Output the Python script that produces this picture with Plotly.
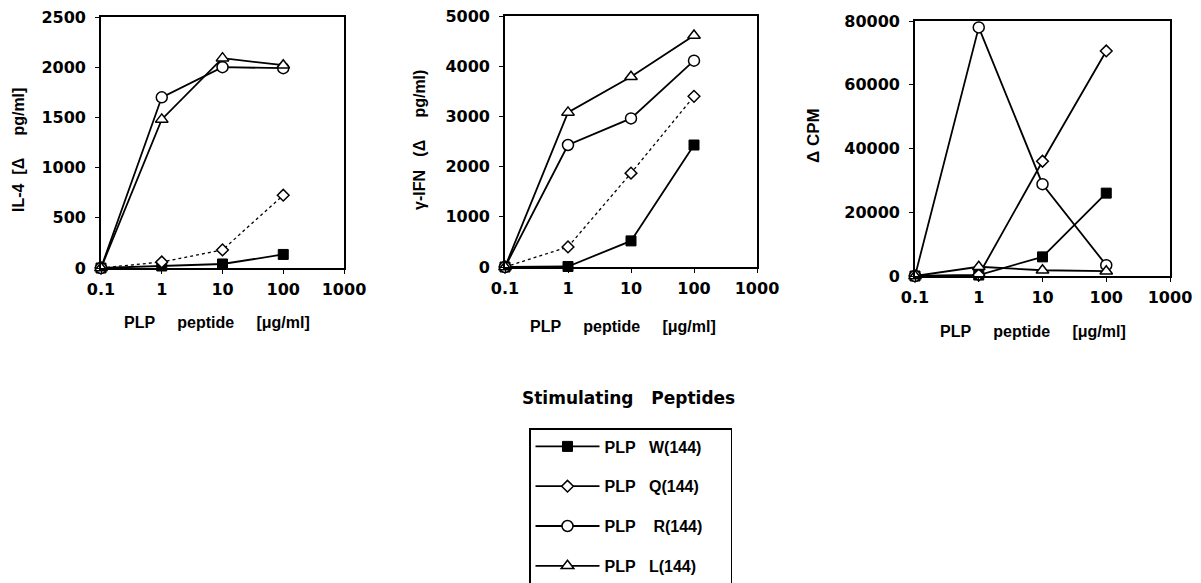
import plotly.graph_objects as go

# ---------------- data ----------------
conc = [0.1, 1, 10, 100]
series_names = ["W", "Q", "R", "L"]
NB = "\u00a0"
legend_labels = ["PLP" + NB * 3 + "W(144)" + NB * 5, "PLP" + NB * 3 + "Q(144)" + NB * 5,
                 "PLP" + NB * 4 + "R(144)" + NB * 5, "PLP" + NB * 3 + "L(144)" + NB * 5]

il4_W = [0, 20, 40, 135]
il4_Q = [0, 60, 180, 725]
il4_R = [0, 1700, 2000, 1990]
il4_L = [0, 1480, 2090, 2020]

ifn_W = [0, 10, 520, 2430]
ifn_Q = [0, 400, 1870, 3400]
ifn_R = [0, 2430, 2960, 4110]
ifn_L = [0, 3080, 3790, 4610]

cpm_W = [0, 300, 6000, 26000]
cpm_Q = [0, 300, 36000, 70600]
cpm_R = [0, 78000, 28800, 3400]
cpm_L = [0, 2900, 1800, 1500]

x_tickvals = [0.1, 1, 10, 100, 1000]
x_ticktext = ["0.1", "1", "10", "100", "1000"]

il4_ticks = [0, 500, 1000, 1500, 2000, 2500]
ifn_ticks = [0, 1000, 2000, 3000, 4000, 5000]
cpm_ticks = [0, 20000, 40000, 60000, 80000]

# ---------------- styles ----------------
W_, H_ = 1201, 583
LBL = "Liberation Sans, Arial, sans-serif"
TICKF = "DejaVu Sans, sans-serif"

marker_style = {
    "W": dict(symbol="square", size=10, color="black", line=dict(color="black", width=1)),
    "Q": dict(symbol="diamond", size=9, color="white", line=dict(color="black", width=1.5)),
    "R": dict(symbol="circle", size=11, color="white", line=dict(color="black", width=1.5)),
    "L": dict(symbol="triangle-up", size=11, color="white", line=dict(color="black", width=1.5)),
}

panels = [
    dict(data=[il4_W, il4_Q, il4_R, il4_L], ticks=il4_ticks, rng=[0, 2500],
         px=(101, 344), py=(17, 268), dotted_q=True, ax="x", ay="y"),
    dict(data=[ifn_W, ifn_Q, ifn_R, ifn_L], ticks=ifn_ticks, rng=[0, 5000],
         px=(505, 757), py=(16, 267), dotted_q=True, ax="x2", ay="y2"),
    dict(data=[cpm_W, cpm_Q, cpm_R, cpm_L], ticks=cpm_ticks, rng=[0, 80000],
         px=(915, 1170), py=(21, 276), dotted_q=False, ax="x3", ay="y3"),
]

fig = go.Figure()

for pi, p in enumerate(panels):
    for si, name in enumerate(series_names):
        dash = "dot" if (name == "Q" and p["dotted_q"]) else "solid"
        lw = 1.3 if dash == "dot" else 1.8
        fig.add_trace(go.Scatter(
            x=conc, y=p["data"][si], mode="lines+markers",
            name=legend_labels[si], legendgroup=name,
            showlegend=(pi == 2),
            line=dict(color="black", width=lw, dash=dash),
            marker=marker_style[name],
            cliponaxis=False,
            xaxis=p["ax"], yaxis=p["ay"],
        ))

layout = dict(
    width=W_, height=H_,
    margin=dict(l=0, r=0, t=0, b=0, autoexpand=False),
    paper_bgcolor="white", plot_bgcolor="white",
    font=dict(family=LBL, color="black"),
    showlegend=True,
    legend=dict(
        x=529 / W_, y=1 - 428 / H_, xanchor="left", yanchor="top",
        bordercolor="black", borderwidth=1.5, bgcolor="white",
        font=dict(family=LBL, size=16, color="black", weight="bold"),
        tracegroupgap=16, itemwidth=64,
    ),
)

for pi, p in enumerate(panels):
    suffix = "" if pi == 0 else str(pi + 1)
    x0, x1 = p["px"]
    y0, y1 = p["py"]
    common = dict(showline=True, linecolor="black", linewidth=1.6, mirror=True,
                  showgrid=False, zeroline=False, ticks="outside", ticklen=4,
                  tickwidth=1.4, tickcolor="black",
                  automargin=False,
                  tickfont=dict(family=TICKF, size=16, color="black", weight="bold"))
    layout["xaxis" + suffix] = dict(
        type="log", range=[-1, 3], domain=[x0 / W_, x1 / W_],
        tickmode="array", tickvals=x_tickvals, ticktext=x_ticktext,
        ticklabelstandoff=2, anchor="y" + suffix, **common)
    layout["yaxis" + suffix] = dict(
        range=p["rng"], domain=[1 - y1 / H_, 1 - y0 / H_],
        tickmode="array", tickvals=p["ticks"], ticktext=[str(t) for t in p["ticks"]],
        ticklabelstandoff=6, anchor="x" + suffix, **common)

fig.update_layout(**layout)

xtitle = "PLP" + NB * 5 + "peptide" + NB * 5 + "[μg/ml]"
annos = [
    dict(text=xtitle, x=217, y=322, angle=0, size=16),
    dict(text=xtitle, x=623, y=326, angle=0, size=16),
    dict(text=xtitle, x=1033, y=331, angle=0, size=16),
    dict(text="IL-4" + NB * 2 + "[Δ" + NB * 5 + "pg/ml]", x=18, y=150, angle=-90, size=16),
    dict(text="γ-IFN" + NB * 3 + "(Δ" + NB * 5 + "pg/ml)", x=420, y=140, angle=-90, size=16),
    dict(text="Δ" + NB + "CPM", x=813, y=136, angle=-90, size=17),
]
for a in annos:
    fig.add_annotation(text=a["text"], x=a["x"] / W_, y=1 - a["y"] / H_,
                       xref="paper", yref="paper", showarrow=False,
                       textangle=a["angle"], xanchor="center", yanchor="middle",
                       font=dict(family=LBL, size=a["size"], color="black", weight="bold"))

fig.add_annotation(text="Stimulating" + NB * 3 + "Peptides", x=628 / W_, y=1 - 398 / H_,
                   xref="paper", yref="paper", showarrow=False,
                   xanchor="center", yanchor="middle",
                   font=dict(family=TICKF, size=17, color="black", weight="bold"))

fig.write_html("out.html", config={"displayModeBar": False},
               post_script="document.body.style.margin='0';document.body.style.overflow='hidden';")
